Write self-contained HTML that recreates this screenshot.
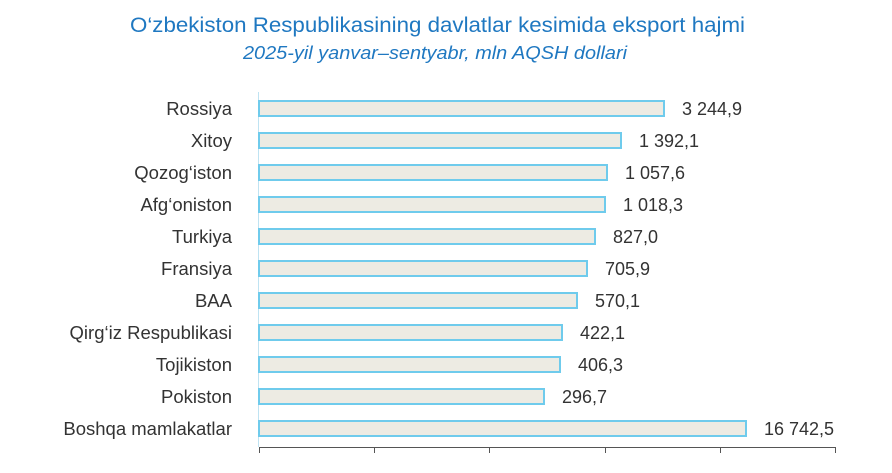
<!DOCTYPE html>
<html><head><meta charset="utf-8"><style>
body{margin:0;background:#fff;width:892px;height:468px;overflow:hidden;font-family:"Liberation Sans",sans-serif;}
</style></head><body>
<svg width="892" height="468" xmlns="http://www.w3.org/2000/svg" font-family="Liberation Sans, sans-serif">
<text x="130" y="32" textLength="615" lengthAdjust="spacingAndGlyphs" font-size="21" fill="#1f78c1">O‘zbekiston Respublikasining davlatlar kesimida eksport hajmi</text>
<text x="243" y="59" textLength="384" lengthAdjust="spacingAndGlyphs" font-size="18" font-style="italic" fill="#1f78c1">2025-yil yanvar–sentyabr, mln AQSH dollari</text>
<line x1="258.5" y1="92" x2="258.5" y2="447" stroke="#bfe3f2" stroke-width="1"/>
<g fill="#edebe3" stroke="#6fcbec" stroke-width="2">
<rect x="259" y="101" width="405" height="15"/>
<rect x="259" y="133" width="362" height="15"/>
<rect x="259" y="165" width="348" height="15"/>
<rect x="259" y="197" width="346" height="15"/>
<rect x="259" y="229" width="336" height="15"/>
<rect x="259" y="261" width="328" height="15"/>
<rect x="259" y="293" width="318" height="15"/>
<rect x="259" y="325" width="303" height="15"/>
<rect x="259" y="357" width="301" height="15"/>
<rect x="259" y="389" width="285" height="15"/>
<rect x="259" y="421" width="487" height="15"/>
</g>
<g font-size="18.5" fill="#333" text-anchor="end">
<text x="232" y="115">Rossiya</text>
<text x="232" y="147">Xitoy</text>
<text x="232" y="179">Qozog‘iston</text>
<text x="232" y="211">Afg‘oniston</text>
<text x="232" y="243">Turkiya</text>
<text x="232" y="275">Fransiya</text>
<text x="232" y="307">BAA</text>
<text x="232" y="339">Qirg‘iz Respublikasi</text>
<text x="232" y="371">Tojikiston</text>
<text x="232" y="403">Pokiston</text>
<text x="232" y="435">Boshqa mamlakatlar</text>
</g>
<g font-size="18" fill="#333">
<text x="682" y="115">3 244,9</text>
<text x="639" y="147">1 392,1</text>
<text x="625" y="179">1 057,6</text>
<text x="623" y="211">1 018,3</text>
<text x="613" y="243">827,0</text>
<text x="605" y="275">705,9</text>
<text x="595" y="307">570,1</text>
<text x="580" y="339">422,1</text>
<text x="578" y="371">406,3</text>
<text x="562" y="403">296,7</text>
<text x="764" y="435">16 742,5</text>
</g>
<g stroke="#555" stroke-width="1">
<line x1="259" y1="447.5" x2="836" y2="447.5"/>
<line x1="259.5" y1="447" x2="259.5" y2="453"/>
<line x1="374.5" y1="447" x2="374.5" y2="453"/>
<line x1="489.5" y1="447" x2="489.5" y2="453"/>
<line x1="605.5" y1="447" x2="605.5" y2="453"/>
<line x1="720.5" y1="447" x2="720.5" y2="453"/>
<line x1="835.5" y1="447" x2="835.5" y2="453"/>
</g>
</svg>
</body></html>
